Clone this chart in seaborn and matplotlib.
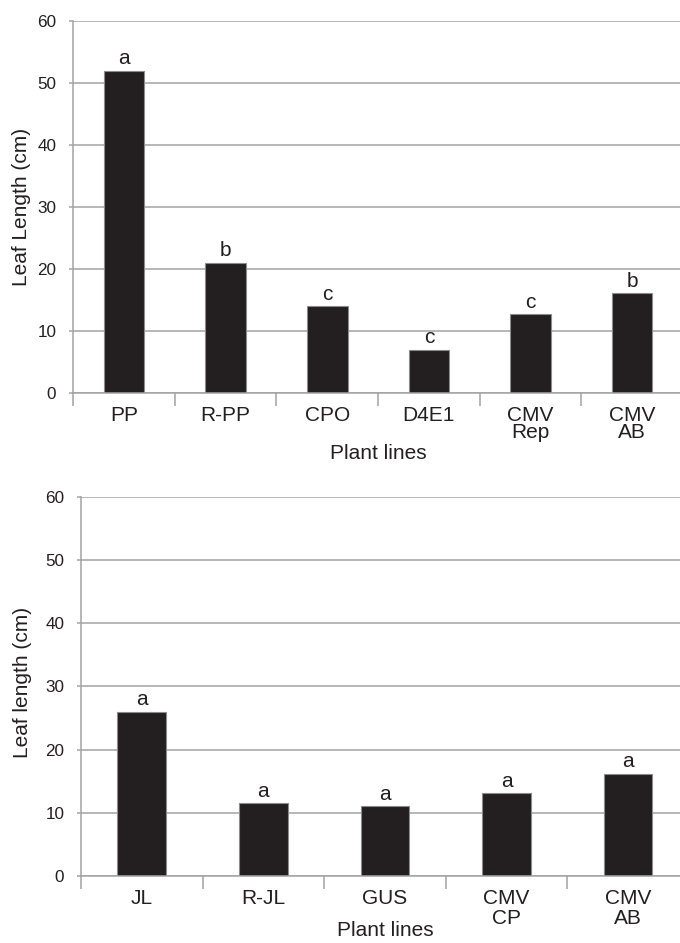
import numpy as np
import matplotlib
matplotlib.use("Agg")
import matplotlib.pyplot as plt
import seaborn as sns

# top panel data
top_lines = ["PP", "R-PP", "CPO", "D4E1", "CMV\nRep", "CMV\nAB"]
top_length = [52.0, 21.0, 14.0, 7.0, 12.7, 16.1]
top_letters = ["a", "b", "c", "c", "c", "b"]

# bottom panel data
bottom_lines = ["JL", "R-JL", "GUS", "CMV\nCP", "CMV\nAB"]
bottom_length = [26.0, 11.5, 11.0, 13.1, 16.2]
bottom_letters = ["a", "a", "a", "a", "a"]

y_ticks = [0, 10, 20, 30, 40, 50, 60]

sns.set_theme(style="white")
plt.rcParams["font.family"] = ["Liberation Sans", "DejaVu Sans"]

BAR = "#231f20"
GRID = "#a3a3a3"
TXT = "#231f20"


def draw_panel(ax, lines, lengths, letters, ylabel, spacing, xlab_y, ylab_x, ylab_y):
    sns.barplot(x=lines, y=lengths, color=BAR, width=0.4, saturation=1,
                edgecolor="#8c8c8c", linewidth=0.8, ax=ax)
    n = len(lines)
    ax.set_xlim(-0.5, n - 0.5)
    ax.set_ylim(0, 60)
    ax.set_yticks(y_ticks)
    ax.yaxis.grid(True, color=GRID, linewidth=1.1)
    ax.set_axisbelow(True)
    for side in ["top", "right"]:
        ax.spines[side].set_visible(False)
    for side in ["left", "bottom"]:
        ax.spines[side].set_color(GRID)
        ax.spines[side].set_linewidth(1.1)
    # category boundary ticks, Excel style
    ax.set_xticks(np.arange(-0.5, n, 1.0), minor=True)
    ax.tick_params(axis="x", which="minor", length=9, width=1.1,
                   color=GRID, direction="out", bottom=True)
    ax.tick_params(axis="x", which="major", length=0, pad=9.5,
                   labelsize=15, labelcolor=TXT)
    for lab in ax.get_xticklabels():
        lab.set_linespacing(spacing)
    ax.tick_params(axis="y", length=3, width=1.1, color=GRID, left=True,
                   pad=9, labelsize=12.3, labelcolor=TXT)
    for i, (v, s) in enumerate(zip(lengths, letters)):
        ax.text(i, v + 0.4, s, ha="center", va="bottom", fontsize=15,
                color=TXT)
    ax.set_ylabel(ylabel, fontsize=15, color=TXT)
    ax.yaxis.set_label_coords(ylab_x, ylab_y)
    ax.set_xlabel("Plant lines", fontsize=15, color=TXT)
    ax.xaxis.set_label_coords(0.5, xlab_y)


fig = plt.figure(figsize=(6.8, 9.43), dpi=100)
ax1 = fig.add_axes([0.1074, 0.5832, 0.8970, 0.3945])
ax2 = fig.add_axes([0.1190, 0.0710, 0.8940, 0.4023])

draw_panel(ax1, top_lines, top_length, top_letters, "Leaf Length (cm)",
           0.85, -0.137, -0.069, 0.5)
draw_panel(ax2, bottom_lines, bottom_length, bottom_letters, "Leaf length (cm)",
           1.05, -0.119, -0.081, 0.51)

fig.savefig("out.png", dpi=100)
plt.close(fig)
